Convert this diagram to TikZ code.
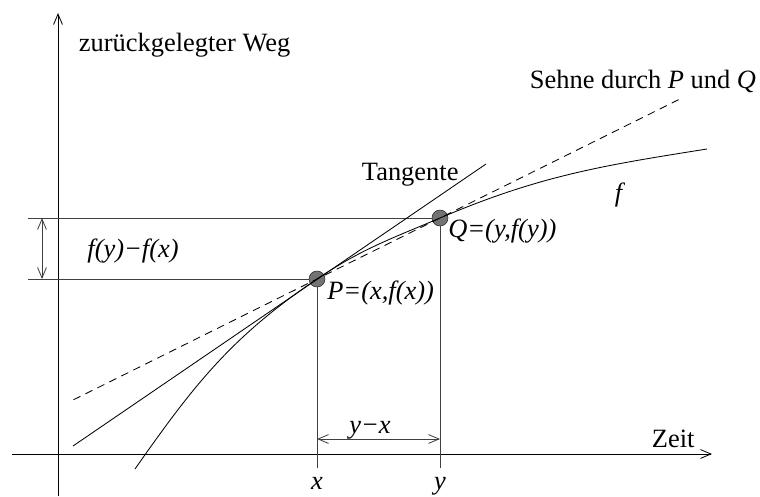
\documentclass[tikz,border=0pt]{standalone}
\usepackage{fontspec}
\setmainfont{Liberation Serif}
\usetikzlibrary{arrows.meta,calc,positioning}

\begin{document}
\begin{tikzpicture}[>={Straight Barb[length=2.6mm,width=2.2mm]},
    font=\fontsize{18.8}{22}\selectfont,
    axis/.style={line width=0.6pt},
    guide/.style={line width=0.6pt,black!75},
    kurve/.style={line width=0.6pt},
    punkt/.style={circle,draw=black!85,fill=black!55,minimum size=0.4cm,inner sep=0pt}]
  \useasboundingbox (-1.45,-1.05) rectangle (17.55,11.35);

  % Achsen
  \coordinate (ybot) at (0,-1.05);
  \coordinate (ytop) at (0,11.025);
  \coordinate (xl) at (-1.15,0);
  \coordinate (xr) at (16.35,0);
  \draw[axis,->] (ybot) -- (ytop);
  \draw[axis,->] (xl) -- (xr);

  \coordinate (P) at (6.475,4.375);
  \coordinate (Q) at (9.55,5.9);

  % Hilfslinien
  \coordinate (hP) at (-0.75,4.375);
  \coordinate (hQ) at (-0.75,5.9);
  \coordinate (vP) at (6.475,-0.35);
  \coordinate (vQ) at (9.55,-0.35);
  \draw[guide] (hQ) -- (Q) -- (vQ);
  \draw[guide] (hP) -- (P) -- (vP);
  \coordinate (dy1) at (-0.4,4.375);
  \coordinate (dy2) at (-0.4,5.9);
  \draw[guide,<->] (dy1) -- (dy2);
  \coordinate (dx1) at (6.475,0.375);
  \coordinate (dx2) at (9.55,0.375);
  \draw[guide,<->] (dx1) -- (dx2);

  \node[punkt] (kP) at (P) {};
  \node[punkt] (kQ) at (Q) {};

  % Sehne, Tangente, f
  \draw[kurve,dash pattern=on 5.5pt off 4pt] ($(P)!-1.98!(Q)$) -- ($(P)!2.96!(Q)$);
  \coordinate (t0) at (0.375,0.2);
  \coordinate (t1) at (10.7,7.25);
  \draw[kurve] (t0) -- (t1);
  \coordinate (f0) at (1.925,-0.375);
  \coordinate (f1) at (16.225,7.625);
  \draw[kurve] (f0) to[out=55,in=214] (P) to[out=34,in=203] (Q) to[out=23,in=189] (f1);

  % Beschriftungen
  \node[anchor=base west] (weg) at (0.4,10.05) {zurückgelegter Weg};
  \node[anchor=base west] (zeit) at (14.725,0.175) {Zeit};
  \node[anchor=base west] (sehne) at (11.675,9.15) {Sehne durch \textit{P} und \textit{Q}};
  \node[anchor=base west] (tang) at (7.475,6.85) {Tangente};
  \node (flab) at (14.05,6.475) {\textit{f}};
  \node[anchor=west,inner sep=0pt] (Plab) at (6.725,4.025) {\textit{P=(x,f(x))}};
  \node[anchor=west,inner sep=0pt] (Qlab) at (9.75,5.575) {\textit{Q=(y,f(y))}};
  \node (fdiff) at (1.875,5.075) {\textit{f(y)−f(x)}};
  \node[anchor=base] (yx) at (7.8,0.525) {\textit{y−x}};
  \node[anchor=base] (xlab) at (6.475,-0.875) {\textit{x}};
  \node[anchor=base] (ylab) at (9.55,-0.875) {\textit{y}};
\end{tikzpicture}
\end{document}
